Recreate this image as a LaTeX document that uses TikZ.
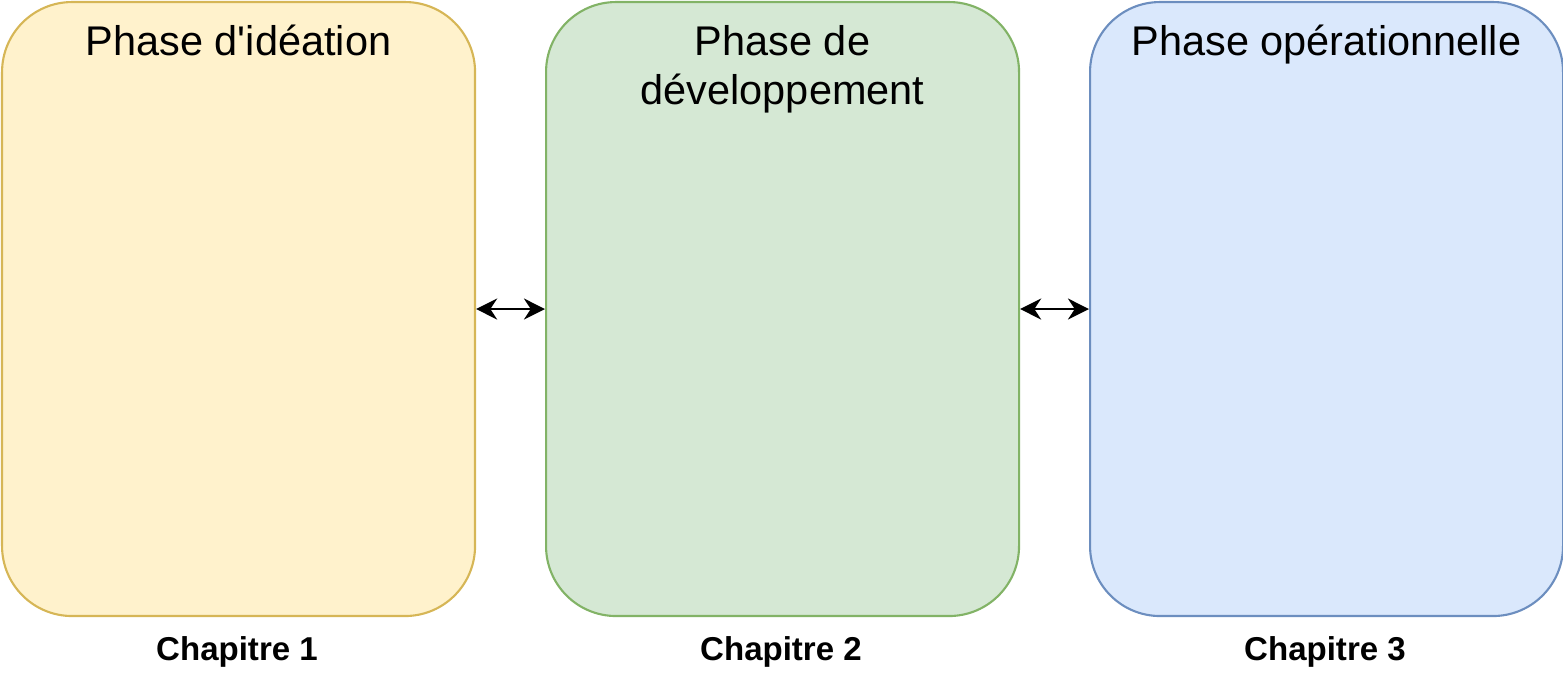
\documentclass[tikz,border=0pt]{standalone}
\usepackage{fontspec}
\setmainfont{Liberation Sans}
\usetikzlibrary{positioning,arrows.meta}
\definecolor{ideaFill}{HTML}{FFF2CC}\definecolor{ideaLine}{HTML}{D6B656}
\definecolor{devFill}{HTML}{D5E8D4}\definecolor{devLine}{HTML}{82B366}
\definecolor{opFill}{HTML}{DAE8FC}\definecolor{opLine}{HTML}{6C8EBF}
\tikzset{
  phase/.style={draw=#1Line, fill=#1Fill, line width=0.6pt, rounded corners=0.7cm,
    minimum width=4.73cm, minimum height=6.14cm, inner sep=0pt, anchor=north west},
  title/.style={font=\fontsize{11.8}{14}\selectfont, align=center, anchor=north},
  chap/.style={font=\fontsize{9.4}{11}\selectfont\bfseries},
  link/.style={{Stealth[length=6pt,width=6pt]}-{Stealth[length=6pt,width=6pt]}, line width=0.6pt}
}
\begin{document}
\begin{tikzpicture}
  \useasboundingbox (0,0) rectangle (15.63,6.88);

  \node[phase=idea] (idea) at (0.01,6.87) {};
  \node[phase=dev] (dev) at (5.45,6.87) {};
  \node[phase=op] (op) at (10.89,6.87) {};

  \node[title] at ([yshift=-0.12cm]idea.north) {Phase d\textquotesingle idéation};
  \node[title] at ([yshift=-0.12cm]dev.north) {Phase de\\développement};
  \node[title] at ([yshift=-0.12cm]op.north) {Phase opérationnelle};

  \node[chap] (c1) at (2.37,0.36) {Chapitre 1};
  \node[chap] (c2) at (7.81,0.36) {Chapitre 2};
  \node[chap] (c3) at (13.25,0.36) {Chapitre 3};

  \draw[link] (idea.east) -- (dev.west);
  \draw[link] (dev.east) -- (op.west);
\end{tikzpicture}
\end{document}
